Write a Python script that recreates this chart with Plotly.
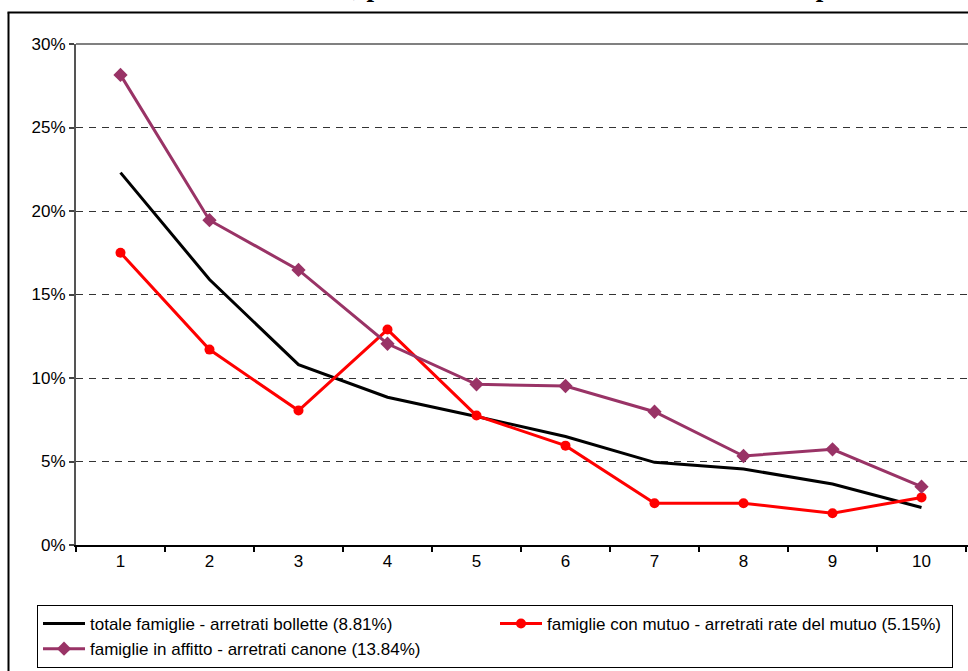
import plotly.graph_objects as go

# Decili di reddito
decili = [1, 2, 3, 4, 5, 6, 7, 8, 9, 10]
etichette_decili = ["1", "2", "3", "4", "5", "6", "7", "8", "9", "10"]

# Quote di famiglie in arretrato per decile
totale_bollette = [0.223, 0.159, 0.108, 0.0885, 0.077, 0.065, 0.0495, 0.0455, 0.0365, 0.0225]
mutuo_rate = [0.175, 0.117, 0.0805, 0.129, 0.0775, 0.0595, 0.025, 0.025, 0.019, 0.0285]
affitto_canone = [0.2815, 0.1945, 0.1647, 0.1205, 0.0962, 0.0952, 0.0798, 0.0533, 0.0573, 0.0349]

nomi = [
    "totale famiglie - arretrati bollette (8.81%)",
    "famiglie con mutuo - arretrati rate del mutuo (5.15%)",
    "famiglie in affitto - arretrati canone (13.84%)",
]

titolo = "Incidenza della morosità, per decile di reddito familiare netto e tipo di casa"

W, H = 968, 671
L, R, T, B = 76, 0, 44, 126
pw, ph = W - L - R, H - T - B
passo = 89.0  # larghezza di una categoria in pixel


def px_x(v):
    return (v - L) / pw


def px_y(v):
    return (H - B - v) / ph


sans = "Liberation Sans, Arial, sans-serif"

fig = go.Figure()
fig.add_trace(go.Scatter(
    x=decili, y=totale_bollette, name=nomi[0], mode="lines",
    line=dict(color="#000000", width=3),
))
fig.add_trace(go.Scatter(
    x=decili, y=mutuo_rate, name=nomi[1], mode="lines+markers",
    line=dict(color="#FF0000", width=3),
    marker=dict(symbol="circle", size=10, color="#FF0000"),
))
fig.add_trace(go.Scatter(
    x=decili, y=affitto_canone, name=nomi[2], mode="lines+markers",
    line=dict(color="#993366", width=3),
    marker=dict(symbol="diamond", size=11, color="#993366"),
))

# tacche tra una categoria e l'altra, etichette al centro
confini = [d - 0.5 for d in decili] + [decili[-1] + 0.5]
fig.update_xaxes(
    range=[0.5, 0.5 + pw / passo],
    tickmode="array", tickvals=decili, ticktext=etichette_decili,
    ticks="", showgrid=False, zeroline=False,
    minor=dict(tickmode="array", tickvals=confini, ticks="outside", ticklen=5,
               tickwidth=1.5, tickcolor="#000", showgrid=False),
    showline=True, linecolor="#000", linewidth=2,
    tickfont=dict(family=sans, size=17, color="#000"),
)
fig.update_yaxes(
    range=[0, 0.30], dtick=0.05, tickformat=".0%",
    ticks="outside", ticklen=5, tickwidth=1.5, tickcolor="#444",
    showline=True, linecolor="#555", linewidth=2,
    showgrid=True, gridcolor="#333", gridwidth=1, griddash="7px,6px",
    zeroline=False,
    tickfont=dict(family=sans, size=17, color="#000"),
)

# bordo superiore dell'area del grafico
fig.add_shape(type="line", xref="paper", yref="paper", x0=0, x1=1, y0=1, y1=1,
              line=dict(color="#808080", width=2))
# cornice esterna (lati sinistro e superiore)
fig.add_shape(type="line", xref="paper", yref="paper",
              x0=px_x(8.5), x1=px_x(8.5), y0=px_y(H), y1=px_y(12.5),
              line=dict(color="#000", width=2))
fig.add_shape(type="line", xref="paper", yref="paper",
              x0=px_x(7.5), x1=px_x(W), y0=px_y(12.5), y1=px_y(12.5),
              line=dict(color="#000", width=2))

fig.add_annotation(
    text="<b>" + titolo + "</b>", xref="paper", yref="paper",
    x=px_x(68), y=px_y(4), xanchor="left", yanchor="bottom",
    showarrow=False, font=dict(family="Liberation Serif, Times New Roman, serif", size=27, color="#000"),
)

fig.update_layout(
    width=W, height=H,
    margin=dict(l=L, r=R, t=T, b=B, autoexpand=False),
    paper_bgcolor="white", plot_bgcolor="white",
    showlegend=True,
    legend=dict(
        orientation="h", x=px_x(37), y=px_y(605), xanchor="left", yanchor="top",
        entrywidth=400, itemwidth=42, bordercolor="#000", borderwidth=1, bgcolor="white",
        font=dict(family=sans, size=17, color="#000"),
        traceorder="normal",
    ),
)

fig.write_html("out.html")
